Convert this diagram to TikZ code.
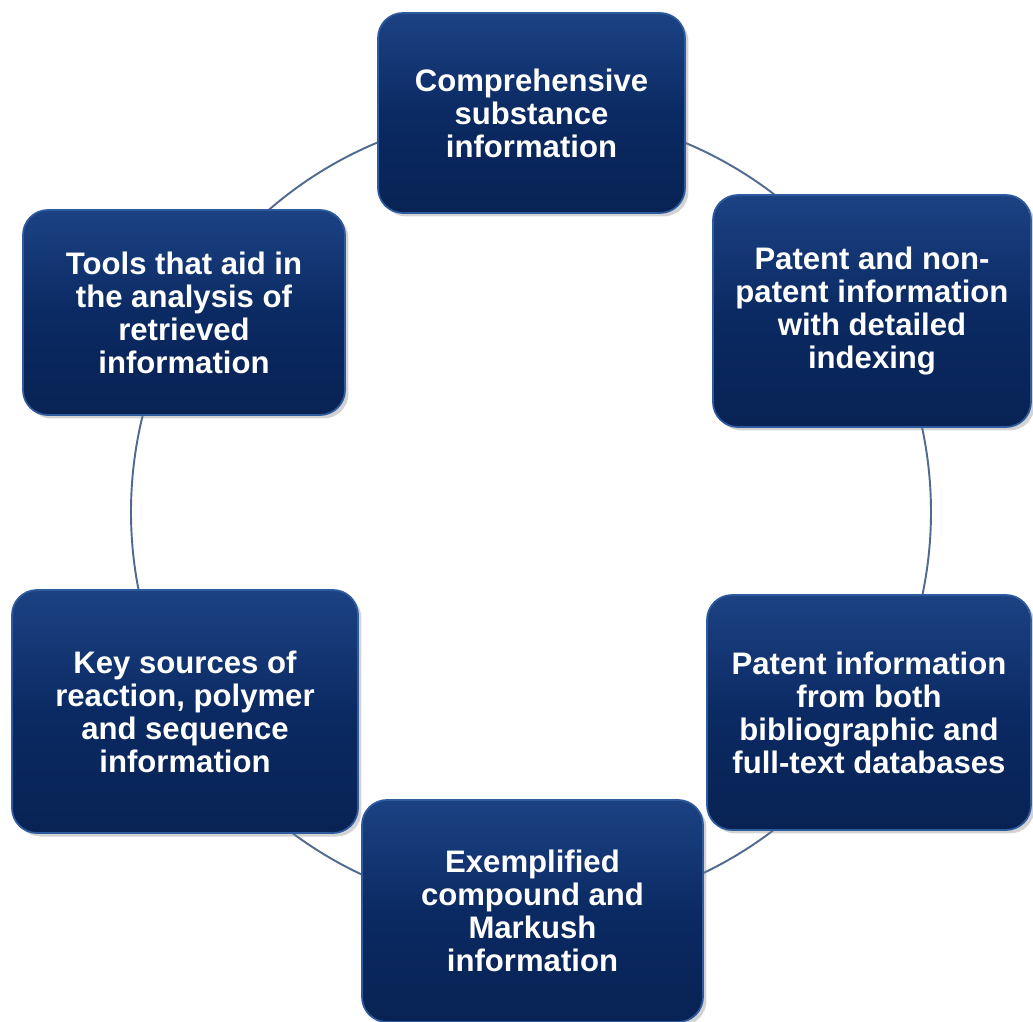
\documentclass[tikz,border=0pt]{standalone}
\usepackage{fontspec}
\setmainfont{Liberation Sans}
\usepackage{xcolor}
\usepackage{tikz}
\usetikzlibrary{backgrounds}
\usetikzlibrary{shadows}

\definecolor{boxtop}{HTML}{1C4284}
\definecolor{boxmid}{HTML}{0B2A63}
\definecolor{boxbot}{HTML}{082253}
\definecolor{boxrim}{HTML}{2E5A9E}
\definecolor{ringblue}{HTML}{506B90}

\tikzset{
	infobox/.style = {rectangle, rounded corners = 0.5cm,
		top color = boxtop, bottom color = boxbot, middle color = boxmid,
		draw = boxrim, line width = 1pt, text = white, align = center,
		inner sep = 0pt,
		font = \bfseries\fontsize{17.7}{18.8}\selectfont,
		drop shadow = {opacity = 0.35, shadow xshift = 0.07, shadow yshift = -0.07}},
	ring/.style = {draw = ringblue, line width = 1.1pt}
}

\begin{document}
\begin{tikzpicture}
		\useasboundingbox (-10.62,-10.20) rectangle (10.04,10.24);
		\coordinate (hub) at (0,0);
		\node[infobox, minimum width = 6.14cm, minimum height = 4.0cm] (subst) at (0.01,7.98) {Comprehensive\\substance\\information};
		\node[infobox, minimum width = 6.36cm, minimum height = 4.64cm] (patent) at (6.82,4.02) {Patent and non-\\patent information\\with detailed\\indexing};
		\node[infobox, minimum width = 6.48cm, minimum height = 4.7cm] (fulltext) at (6.76,-4.01) {Patent information\\from both\\bibliographic and\\full-text databases};
		\node[infobox, minimum width = 6.82cm, minimum height = 4.44cm] (markush) at (0.03,-7.98) {Exemplified\\compound and\\Markush\\information};
		\node[infobox, minimum width = 6.92cm, minimum height = 4.86cm] (reaction) at (-6.92,-3.99) {Key sources of\\reaction, polymer\\and sequence\\information};
		\node[infobox, minimum width = 6.44cm, minimum height = 4.1cm] (tools) at (-6.94,3.99) {Tools that aid in\\the analysis of\\retrieved\\information};
		\begin{scope}[on background layer]
			\draw[ring] (hub) circle (8);
		\end{scope}
	\end{tikzpicture}
\end{document}
